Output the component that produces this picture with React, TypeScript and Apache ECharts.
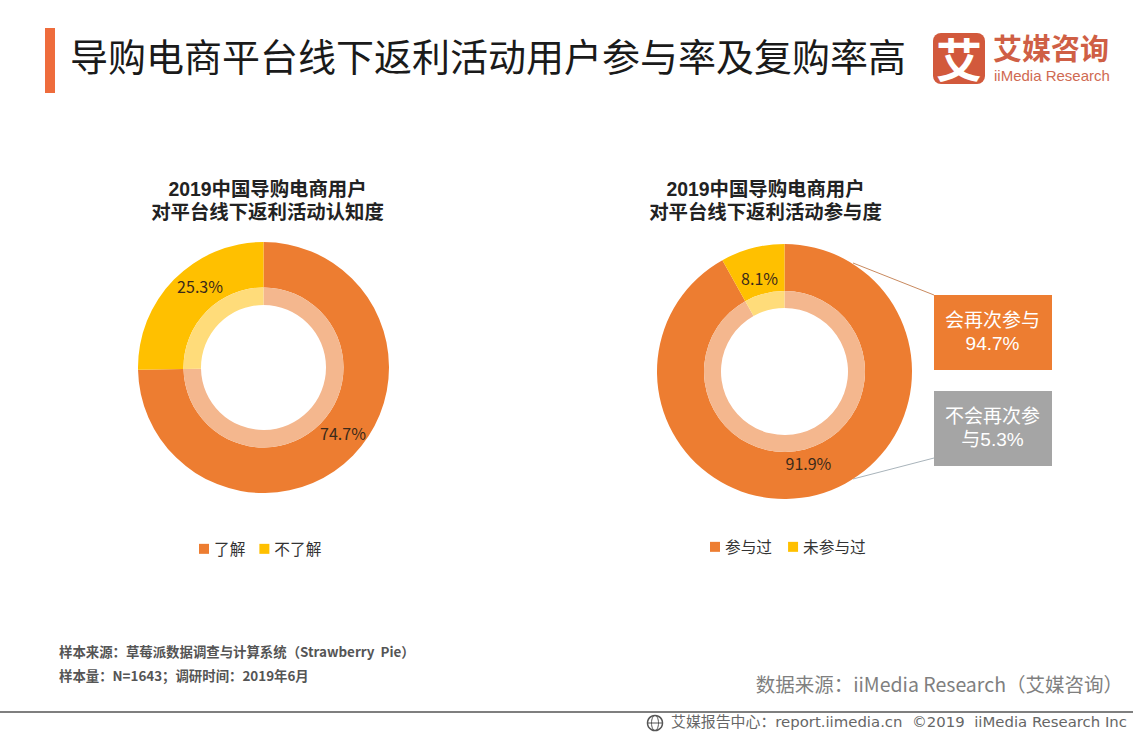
import React, { useEffect, useRef } from "react";
import * as echarts from "echarts";

const SANS = '"Noto Sans CJK SC", "Noto Sans", sans-serif';
const COMPACT = '"Liberation Sans", "Noto Sans CJK SC", sans-serif';
const WIDE = '"DejaVu Sans", "Noto Sans CJK SC", sans-serif';

const mainTitle = "导购电商平台线下返利活动用户参与率及复购率高";
const leftTitle = ["2019中国导购电商用户", "对平台线下返利活动认知度"];
const rightTitle = ["2019中国导购电商用户", "对平台线下返利活动参与度"];

const leftCategories = ["了解", "不了解"];
const leftValues = [74.7, 25.3];
const rightCategories = ["参与过", "未参与过"];
const rightValues = [91.9, 8.1];

const calloutYes = ["会再次参与", "94.7%"];
const calloutNo = ["不会再次参", "与5.3%"];

const sourceLines = [
  "样本来源：草莓派数据调查与计算系统（Strawberry  Pie）",
  "样本量：N=1643；调研时间：2019年6月",
];
const dataSource = "数据来源：iiMedia Research（艾媒咨询）";
const footerText = "艾媒报告中心：report.iimedia.cn  ©2019  iiMedia Research Inc";

const ORANGE = "#ed7d31";
const YELLOW = "#ffc000";
const ORANGE_LIGHT = "#f4b78e";
const YELLOW_LIGHT = "#ffdc7a";

function donutSeries(
  cats: string[],
  vals: number[],
  center: number[],
  radii: number[],
  offsets: number[][]
) {
  const outer = {
    type: "pie",
    silent: true,
    center,
    radius: [radii[1], radii[2]],
    startAngle: 90,
    clockwise: true,
    itemStyle: { borderWidth: 0 },
    labelLine: { show: false },
    data: vals.map((value, i) => ({
      name: cats[i],
      value,
      itemStyle: { color: i === 0 ? ORANGE : YELLOW },
      label: {
        show: true,
        position: "inside",
        formatter: "{c}%",
        offset: offsets[i],
        color: "#3b2a1a",
        fontSize: 16,
        fontFamily: SANS,
      },
    })),
  };
  const inner = {
    type: "pie",
    silent: true,
    center,
    radius: [radii[0], radii[1]],
    startAngle: 90,
    clockwise: true,
    itemStyle: { borderWidth: 0 },
    label: { show: false },
    labelLine: { show: false },
    data: vals.map((value, i) => ({
      name: cats[i],
      value,
      itemStyle: { color: i === 0 ? ORANGE_LIGHT : YELLOW_LIGHT },
    })),
  };
  return [outer, inner];
}

function twoLines(lines: string[], x: number, y: number, style: any) {
  return {
    type: "text",
    x,
    y,
    style: {
      text: lines.join("\n"),
      textAlign: "center",
      textVerticalAlign: "middle",
      lineHeight: 23,
      ...style,
    },
  };
}

export default function App() {
  const ref = useRef<HTMLDivElement>(null);

  useEffect(() => {
    if (!ref.current) return;
    const chart = echarts.init(ref.current, undefined, { renderer: "svg" });
    const subStyle = { font: `bold 19.4px ${COMPACT}`, fill: "#222" };
    const boxStyle = { font: `19px ${COMPACT}`, fill: "#fff" };
    chart.setOption({
      animation: false,
      backgroundColor: "#fff",
      legend: [
        {
          left: 194,
          top: 536,
          itemWidth: 10,
          itemHeight: 10,
          itemGap: 14,
          selectedMode: false,
          icon: "rect",
          data: leftCategories,
          textStyle: { fontSize: 15.7, color: "#333", fontFamily: SANS },
        },
        {
          left: 705,
          top: 534,
          itemWidth: 10,
          itemHeight: 10,
          itemGap: 16,
          selectedMode: false,
          icon: "rect",
          data: rightCategories,
          textStyle: { fontSize: 15.7, color: "#333", fontFamily: SANS },
        },
      ],
      series: [
        ...donutSeries(leftCategories, leftValues, [263.5, 367.5], [62.5, 80, 125.5], [
          [4, -9],
          [12, -7],
        ]),
        ...donutSeries(rightCategories, rightValues, [784.5, 371.5], [63.5, 80.5, 127.5], [
          [-3, -12],
          [2, 10],
        ]),
      ],
      graphic: [
        { type: "rect", shape: { x: 45, y: 28, width: 10, height: 65 }, style: { fill: "#ee6c3c" } },
        {
          type: "text",
          x: 70,
          y: 54,
          style: { text: mainTitle, textVerticalAlign: "middle", font: `38px ${SANS}`, fill: "#1a1a1a" },
        },
        // logo
        { type: "rect", shape: { x: 933, y: 33, width: 52, height: 51, r: 8 }, style: { fill: "#d2593c" } },
        {
          type: "text",
          x: 959,
          y: 57,
          style: { text: "艾", textAlign: "center", textVerticalAlign: "middle", font: `bold 46px ${SANS}`, fill: "#fff" },
        },
        {
          type: "text",
          x: 993,
          y: 50,
          style: { text: "艾媒咨询", textVerticalAlign: "middle", font: `bold 29px ${COMPACT}`, fill: "#cf5f45" },
        },
        {
          type: "text",
          x: 994,
          y: 75,
          style: { text: "iiMedia Research", textVerticalAlign: "middle", font: `15px ${COMPACT}`, fill: "#cf6a52" },
        },
        // subtitles
        twoLines(leftTitle, 267.5, 200, subStyle),
        twoLines(rightTitle, 765.5, 200, subStyle),
        // leader lines
        { type: "line", shape: { x1: 853, y1: 263, x2: 934, y2: 295 }, style: { stroke: "#c98a5f", lineWidth: 1 } },
        { type: "line", shape: { x1: 853, y1: 479, x2: 934, y2: 458 }, style: { stroke: "#a9b4bb", lineWidth: 1 } },
        // callouts
        { type: "rect", shape: { x: 934, y: 295, width: 118, height: 75 }, style: { fill: ORANGE } },
        { type: "rect", shape: { x: 934, y: 391, width: 118, height: 75 }, style: { fill: "#a5a5a5" } },
        twoLines(calloutYes, 992.5, 332, boxStyle),
        twoLines(calloutNo, 992.5, 428, boxStyle),
        // source
        ...sourceLines.map((text, i) => ({
          type: "text",
          x: 59,
          y: 650.5 + i * 24,
          style: { text, textVerticalAlign: "middle", font: `bold 13.4px ${SANS}`, fill: "#555" },
        })),
        {
          type: "text",
          x: 1123,
          y: 683,
          style: { text: dataSource, textAlign: "right", textVerticalAlign: "middle", font: `19.5px ${SANS}`, fill: "#7f7f7f" },
        },
        // footer
        { type: "rect", shape: { x: 0, y: 711, width: 1133, height: 2 }, style: { fill: "#7f7f7f" } },
        { type: "circle", shape: { cx: 655, cy: 723, r: 7.5 }, style: { fill: "none", stroke: "#555", lineWidth: 1.5 } },
        { type: "ellipse", shape: { cx: 655, cy: 723, rx: 3.5, ry: 7.5 }, style: { fill: "none", stroke: "#555", lineWidth: 1 } },
        { type: "line", shape: { x1: 648, y1: 723, x2: 662, y2: 723 }, style: { stroke: "#555", lineWidth: 1 } },
        {
          type: "text",
          x: 1127,
          y: 722,
          style: { text: footerText, textAlign: "right", textVerticalAlign: "middle", font: `14.9px ${WIDE}`, fill: "#666" },
        },
      ],
    });
    return () => chart.dispose();
  }, []);

  return <div ref={ref} style={{ position: "fixed", left: 0, top: 0, width: 1133, height: 737 }} />;
}
